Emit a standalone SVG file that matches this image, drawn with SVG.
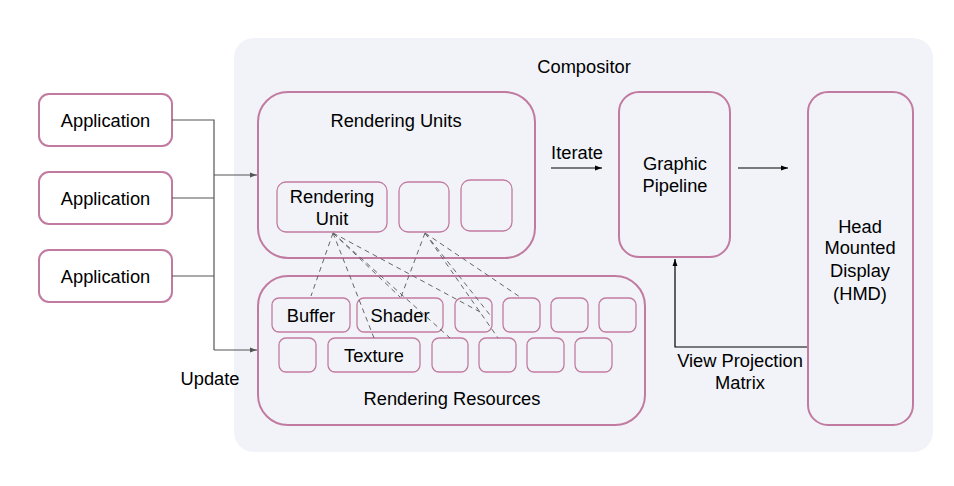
<svg xmlns="http://www.w3.org/2000/svg" width="954" height="486" viewBox="0 0 954 486">
<defs>
<style>
.box{fill:#ffffff;stroke:#c27ba0;stroke-width:2}
.inbox{fill:none;stroke:#c27ba0;stroke-width:1.3}
.big{fill:none;stroke:#c27ba0;stroke-width:2}
text{font-family:"Liberation Sans",Arial,sans-serif;font-size:18.3px;fill:#000;text-anchor:middle}
.g{fill:none;stroke:#555;stroke-width:1.2}
.k{fill:none;stroke:#000;stroke-width:1.2}
.d{fill:none;stroke:#666;stroke-width:1;stroke-dasharray:5 4}
</style>
<marker id="ag" viewBox="0 0 10 10" refX="10" refY="5" markerWidth="7" markerHeight="7" orient="auto" markerUnits="userSpaceOnUse"><path d="M0,1.5 L10,5 L0,8.5 Z" fill="#555"/></marker>
<marker id="ak" viewBox="0 0 10 10" refX="10" refY="5" markerWidth="7" markerHeight="7" orient="auto" markerUnits="userSpaceOnUse"><path d="M0,1.5 L10,5 L0,8.5 Z" fill="#000"/></marker>
</defs>
<rect width="954" height="486" fill="#fff"/>
<g id="compositor">
<rect x="234" y="38" width="699" height="414" rx="20" fill="#f1f3f8"/>
<text x="584" y="73">Compositor</text>
</g>
<g id="app1"><rect class="box" x="39" y="94" width="133" height="52" rx="10"/><text x="105.5" y="126.5">Application</text></g>
<g id="app2"><rect class="box" x="39" y="172" width="133" height="52" rx="10"/><text x="105.5" y="204.5">Application</text></g>
<g id="app3"><rect class="box" x="39" y="250" width="133" height="52" rx="10"/><text x="105.5" y="282.5">Application</text></g>
<g id="rendering-units"><rect class="big" x="258" y="92" width="277" height="166" rx="30"/><text x="396" y="127">Rendering Units</text></g>
<g id="rendering-unit"><rect class="inbox" x="277" y="182" width="110" height="50" rx="9"/><text x="332" y="203">Rendering</text><text x="332" y="225">Unit</text></g>
<g id="ru2"><rect class="inbox" x="399" y="182" width="50" height="50" rx="9"/></g>
<g id="ru3"><rect class="inbox" x="461" y="180" width="51" height="51" rx="9"/></g>
<g id="rendering-resources"><rect class="big" x="258" y="276" width="387" height="149" rx="30"/><text x="452" y="405">Rendering Resources</text></g>
<g id="buffer"><rect class="inbox" x="272" y="298" width="78" height="34" rx="7"/><text x="311" y="322">Buffer</text></g>
<g id="shader"><rect class="inbox" x="357" y="298" width="86" height="34" rx="7"/><text x="400" y="322">Shader</text></g>
<g id="r1c3"><rect class="inbox" x="455" y="298" width="37" height="34" rx="7"/></g>
<g id="r1c4"><rect class="inbox" x="503" y="298" width="37" height="34" rx="7"/></g>
<g id="r1c5"><rect class="inbox" x="551" y="298" width="37" height="34" rx="7"/></g>
<g id="r1c6"><rect class="inbox" x="599" y="298" width="37" height="34" rx="7"/></g>
<g id="r2c1"><rect class="inbox" x="279" y="338" width="37" height="34" rx="7"/></g>
<g id="texture"><rect class="inbox" x="328" y="338" width="92" height="34" rx="7"/><text x="374" y="362">Texture</text></g>
<g id="r2c3"><rect class="inbox" x="432" y="338" width="36" height="34" rx="7"/></g>
<g id="r2c4"><rect class="inbox" x="479" y="338" width="37" height="34" rx="7"/></g>
<g id="r2c5"><rect class="inbox" x="527" y="338" width="37" height="34" rx="7"/></g>
<g id="r2c6"><rect class="inbox" x="575" y="338" width="37" height="34" rx="7"/></g>
<g id="graphic-pipeline"><rect class="big" x="619" y="92" width="111" height="165" rx="20"/><text x="675" y="170">Graphic</text><text x="675" y="192">Pipeline</text></g>
<g id="hmd"><rect class="big" x="808" y="92" width="105" height="333" rx="20"/><text x="860" y="233">Head</text><text x="860" y="254">Mounted</text><text x="860" y="277">Display</text><text x="860" y="300">(HMD)</text></g>
<g id="connectors">
<path class="g" d="M172,120 H214 V350"/>
<path class="g" d="M172,198 H214"/>
<path class="g" d="M172,276 H214"/>
<path class="g" d="M214,175 H257" marker-end="url(#ag)"/>
<path class="g" d="M214,350 H257" marker-end="url(#ag)"/>
<path class="k" d="M551,168 H602" marker-end="url(#ak)"/>
<path class="k" d="M738,168 H788" marker-end="url(#ak)"/>
<path class="k" d="M807,347 H675 V259" marker-end="url(#ak)"/>
<path class="d" d="M333,233 L311,296"/>
<path class="d" d="M333,233 L374,338"/>
<path class="d" d="M333,233 L400,297"/>
<path class="d" d="M333,233 L450,338"/>
<path class="d" d="M333,233 L482,313"/>
<path class="d" d="M425,233 L401,297"/>
<path class="d" d="M425,233 L490,315"/>
<path class="d" d="M425,233 L498,338"/>
<path class="d" d="M425,233 L520,297"/>
</g>
<g id="labels">
<text x="577" y="159">Iterate</text>
<text x="210" y="385">Update</text>
<text x="740" y="367">View Projection</text>
<text x="740" y="389">Matrix</text>
</g>
</svg>
